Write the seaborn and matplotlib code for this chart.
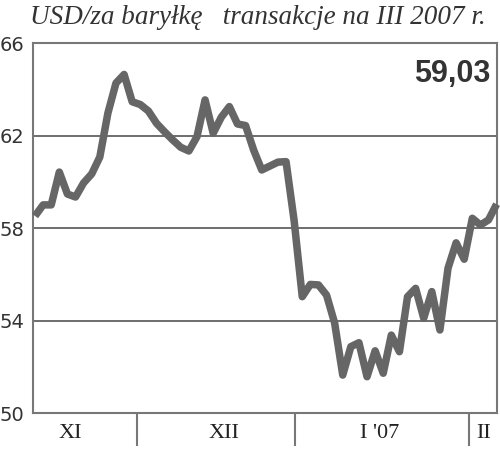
import matplotlib
matplotlib.use("Agg")
import matplotlib.pyplot as plt
import seaborn as sns
import pandas as pd

# Data (trading-day index vs USD per barrel)
prices = [58.52, 59.00, 59.00, 60.42, 59.47, 59.34, 59.95, 60.34, 61.07, 62.97,
          64.27, 64.64, 63.46, 63.34, 63.06, 62.53, 62.16, 61.81, 61.49, 61.33,
          61.95, 63.54, 62.10, 62.79, 63.25, 62.50, 62.43, 61.37, 60.51, 60.68,
          60.85, 60.87, 58.31, 55.03, 55.56, 55.54, 55.10, 53.89, 51.64, 52.87,
          53.04, 51.57, 52.69, 51.72, 53.37, 52.65, 55.03, 55.39, 54.10, 55.25,
          53.59, 56.26, 57.36, 56.65, 58.42, 58.13, 58.35, 59.03]
days = list(range(len(prices)))
month_bounds = [12.6, 32.1, 53.6]
month_labels = ["XI", "XII", "I '07", "II"]
month_label_pos = [4.3, 23.3, 42.6, 55.4]
y_ticks = [50, 54, 58, 62, 66]
last_value = "59,03"
title = "USD/za baryłkę   transakcje na III 2007 r."

df = pd.DataFrame({"day": days, "price": prices})

sns.set_style("white")
fig = plt.figure(figsize=(5, 4.5), dpi=100)
ax = fig.add_axes([0.066, 0.0822, 0.928, 0.8222])

for yv in y_ticks[1:-1]:
    ax.axhline(yv, color="#555555", lw=1.2, zorder=1)

sns.lineplot(data=df, x="day", y="price", ax=ax, color="#666666", lw=5.4,
             zorder=3, clip_on=False)
for l in ax.lines:
    l.set_solid_joinstyle("round")
    l.set_solid_capstyle("butt")

ax.set_xlim(-0.25, 57.05)
ax.set_ylim(50, 66)
ax.set_yticks(y_ticks)
ax.set_yticklabels([str(v) for v in y_ticks], fontsize=14, color="#333333",
                   family="DejaVu Sans")
ax.tick_params(axis="y", length=0, pad=6)

ax.set_xticks(month_bounds)
ax.set_xticklabels([])
ax.set_xticks(month_label_pos, minor=True)
ax.set_xticklabels(month_labels, minor=True, fontsize=16,
                   family="Liberation Serif", color="#222222")
ax.tick_params(axis="x", which="major", bottom=True, length=24, width=1.5,
               color="#777777", direction="out")
ax.tick_params(axis="x", which="minor", bottom=True, length=0, pad=8)
ax.set_xlabel("")
ax.set_ylabel("")

for s in ax.spines.values():
    s.set_visible(True)
    s.set_color("#777777")
    s.set_linewidth(1.5)

ax.text(0.985, 0.958, last_value, transform=ax.transAxes, ha="right", va="top",
        fontsize=22, fontweight="bold", color="#333333", family="Liberation Sans")

fig.text(0.515, 0.962, title, ha="center", va="center", fontsize=19.5,
         style="italic", family="Liberation Serif", color="#333333")

fig.savefig("out.png", dpi=100)
